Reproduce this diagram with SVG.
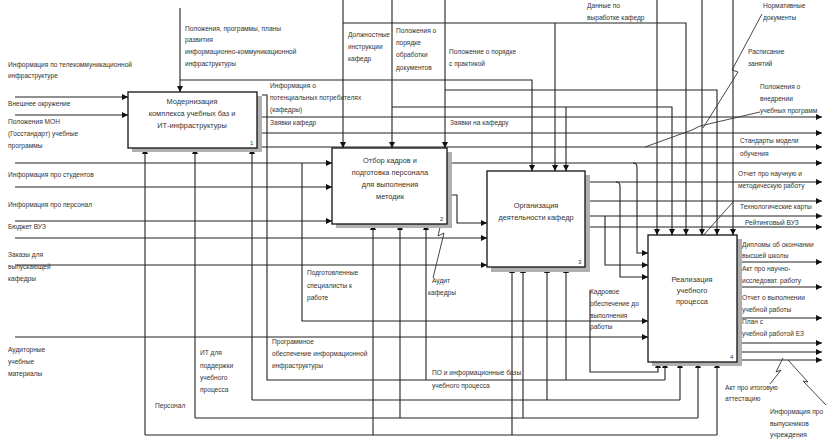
<svg xmlns="http://www.w3.org/2000/svg" width="827" height="439" viewBox="0 0 827 439">
<defs>
<marker id="ah" viewBox="0 0 8 8" refX="8" refY="4" markerWidth="6" markerHeight="6" orient="auto" markerUnits="userSpaceOnUse"><path d="M0,0 L8,4 L0,8 z" fill="#111"/></marker>
<style>
.c{fill:none;stroke:#222;stroke-width:1.1}
.a{marker-end:url(#ah)}
.z{fill:none;stroke:#333;stroke-width:0.9}
.box{fill:#fff;stroke:#111;stroke-width:1.3}
.sh{fill:#b0b0b0}
text{font-family:"Liberation Sans",Arial,sans-serif;font-size:6.6px;fill:#333}
.bt{text-anchor:middle;font-size:7.4px}
.n{font-size:6px}
</style>
</defs>
<rect width="827" height="439" fill="#fff"/>
<g id="connectors">
<path class="c a" d="M15,97 H128"/>
<path class="c a" d="M15,115 H128"/>
<path class="c a" d="M15,163 H332"/>
<path class="c a" d="M15,187 H332"/>
<path class="c a" d="M15,221 H332"/>
<path class="c a" d="M15,238 H487"/>
<path class="c a" d="M15,265 H487"/>
<path class="c a" d="M15,337 H648"/>
<path class="c a" d="M302,163 V321 H648"/>
<path class="c a" d="M633,163 Q637,163 637,167 V253 H648"/>
<path class="c a" d="M605,216 V265 H648"/>
<path class="c a" d="M616,182 Q620,182 620,186 V277 H648"/>
<path class="c a" d="M180,8 V92"/>
<path class="c a" d="M180,80 H532 V171"/>
<path class="c a" d="M343,0 V148"/>
<path class="c a" d="M392,0 V148"/>
<path class="c a" d="M445,0 V148"/>
<path class="c a" d="M343,23 H686 V235"/>
<path class="c a" d="M555,23 V171"/>
<path class="c a" d="M392,107 H672 V235"/>
<path class="c a" d="M566,107 V171"/>
<path class="c a" d="M445,90 H717 V235"/>
<path class="c a" d="M657,0 V235"/>
<path class="c a" d="M702,0 V235"/>
<path class="c a" d="M733,0 V235"/>
<path class="c a" d="M257,117 H822"/>
<path class="c a" d="M257,133 H822"/>
<path class="c a" d="M257,147 H822"/>
<path class="c a" d="M447,163 H822"/>
<path class="c a" d="M447,195 H457 V223 H487"/>
<path class="c a" d="M585,182 H822"/>
<path class="c a" d="M585,201 H822"/>
<path class="c a" d="M585,216 H822"/>
<path class="c a" d="M585,227 H822"/>
<path class="c a" d="M737,262 H822"/>
<path class="c a" d="M737,287 H822"/>
<path class="c a" d="M737,318 H822"/>
<path class="c a" d="M737,343 H822"/>
<path class="c a" d="M737,352 H822"/>
<path class="c a" d="M737,360 H822"/>
<path class="c" d="M145,435 H717"/>
<path class="c a" d="M145,435 V148"/>
<path class="c a" d="M373,435 V224"/>
<path class="c a" d="M512,435 V267"/>
<path class="c a" d="M717,435 V362"/>
<path class="c" d="M195,418 H698"/>
<path class="c a" d="M195,418 V148"/>
<path class="c a" d="M400,418 V224"/>
<path class="c a" d="M523,418 V267"/>
<path class="c a" d="M698,418 V362"/>
<path class="c" d="M252,400 H680"/>
<path class="c a" d="M252,400 V148"/>
<path class="c a" d="M547,400 V267"/>
<path class="c a" d="M680,400 V362"/>
<path class="c" d="M262,95 H267 V380 H665"/>
<path class="c a" d="M426,380 V224"/>
<path class="c a" d="M566,380 V267"/>
<path class="c a" d="M665,380 V362"/>
<path class="c a" d="M590,290 V372 H658 V362"/>
<path class="z" d="M447,197 L438,236 L444,233 L433,278"/>
<path class="z" d="M733,202 L693,247 L700,245 L652,290"/>
<path class="z" d="M762,14 L732,70 L738,72 L703,128"/>
<path class="z" d="M760,112 L700,126 L692,130 L645,147"/>
<path class="z" d="M783,358 L776,372 L781,370 L770,384"/>
<path class="z" d="M788,360 L808,382 L803,381 L826,405"/>
</g>
<g id="node1">
<rect class="sh" x="132" y="96" width="130" height="56"/>
<rect class="box" x="128" y="92" width="129" height="56"/>
<text class="bt" x="192" y="104">Модернизация</text>
<text class="bt" x="192" y="116">комплекса учебных баз и</text>
<text class="bt" x="192" y="128">ИТ-инфраструктуры</text>
<text class="n" x="250" y="145">1</text>
</g>
<g id="node2">
<rect class="sh" x="336" y="152" width="116" height="76"/>
<rect class="box" x="332" y="148" width="115" height="76"/>
<text class="bt" x="390" y="163">Отбор кадров и</text>
<text class="bt" x="390" y="175">подготовка персонала</text>
<text class="bt" x="390" y="187">для выполнения</text>
<text class="bt" x="390" y="199">методик</text>
<text class="n" x="440" y="221">2</text>
</g>
<g id="node3">
<rect class="sh" x="491" y="175" width="99" height="97"/>
<rect class="box" x="487" y="171" width="98" height="96"/>
<text class="bt" x="536" y="208">Организация</text>
<text class="bt" x="536" y="220">деятельности кафедр</text>
<text class="n" x="578" y="264">3</text>
</g>
<g id="node4">
<rect class="sh" x="652" y="239" width="90" height="127"/>
<rect class="box" x="648" y="235" width="89" height="127"/>
<text class="bt" x="692" y="282">Реализация</text>
<text class="bt" x="692" y="293">учебного</text>
<text class="bt" x="692" y="304">процесса</text>
<text class="n" x="730" y="359">4</text>
</g>
<g id="labels">
<text x="8" y="67">Информация по телекоммуникационной</text>
<text x="8" y="78">инфраструктуре</text>
<text x="8" y="106">Внешнее окружение</text>
<text x="8" y="124">Положения МОН</text>
<text x="8" y="136">(Госстандарт) учебные</text>
<text x="8" y="148">программы</text>
<text x="8" y="177">Информация про студентов</text>
<text x="8" y="207">Информация про персонал</text>
<text x="8" y="229">Бюджет ВУЗ</text>
<text x="8" y="257">Заказы для</text>
<text x="8" y="269">выпускающей</text>
<text x="8" y="281">кафедры</text>
<text x="8" y="352">Аудиторные</text>
<text x="8" y="364">учебные</text>
<text x="8" y="376">материалы</text>
<text x="185" y="31">Положения, программы, планы</text>
<text x="185" y="42">развития</text>
<text x="185" y="54">информационно-коммуникационной</text>
<text x="185" y="66">инфраструктуры</text>
<text x="348" y="37">Должностные</text>
<text x="348" y="49">инструкции</text>
<text x="348" y="61">кафедр</text>
<text x="396" y="33">Положения о</text>
<text x="396" y="45">порядке</text>
<text x="396" y="57">обработки</text>
<text x="396" y="70">документов</text>
<text x="449" y="54">Положение о порядке</text>
<text x="449" y="66">с практикой</text>
<text x="270" y="88">Информация о</text>
<text x="270" y="100">потенциальных потребителях</text>
<text x="270" y="112">(кафедры)</text>
<text x="270" y="125">Заявки кафедр</text>
<text x="450" y="125">Заявки на кафедру</text>
<text x="587" y="8">Данные по</text>
<text x="587" y="20">выработке кафедр</text>
<text x="763" y="8">Нормативные</text>
<text x="763" y="20">документы</text>
<text x="748" y="54">Расписание</text>
<text x="748" y="66">занятий</text>
<text x="760" y="89">Положения о</text>
<text x="760" y="101">внедрении</text>
<text x="760" y="113">учебных программ</text>
<text x="740" y="143">Стандарты модели</text>
<text x="740" y="156">обучения</text>
<text x="738" y="176">Отчет про научную и</text>
<text x="738" y="188">методическую работу</text>
<text x="740" y="209">Технологические карты</text>
<text x="745" y="225">Рейтинговый ВУЗ</text>
<text x="742" y="247">Дипломы об окончании</text>
<text x="742" y="258">высшей школы</text>
<text x="742" y="271">Акт про научно-</text>
<text x="742" y="283">исследоват. работу</text>
<text x="742" y="300">Отчет о выполнении</text>
<text x="742" y="312">учебной работы</text>
<text x="742" y="324">План с</text>
<text x="742" y="336">учебной работой ЕЗ</text>
<text x="725" y="390">Акт про итоговую</text>
<text x="725" y="401">аттестацию</text>
<text x="770" y="414">Информация про</text>
<text x="770" y="426">выпускников</text>
<text x="770" y="437">учреждения</text>
<text x="155" y="408">Персонал</text>
<text x="200" y="355">ИТ для</text>
<text x="200" y="368">поддержки</text>
<text x="200" y="380">учебного</text>
<text x="200" y="392">процесса</text>
<text x="272" y="344">Программное</text>
<text x="272" y="356">обеспечение информационной</text>
<text x="272" y="368">инфраструктуры</text>
<text x="307" y="275">Подготовленные</text>
<text x="307" y="288">специалисты к</text>
<text x="307" y="300">работе</text>
<text x="432" y="283">Аудит</text>
<text x="428" y="295">кафедры</text>
<text x="432" y="375">ПО и информационные базы</text>
<text x="432" y="388">учебного процесса</text>
<text x="590" y="294">Кадровое</text>
<text x="590" y="306">обеспечение до</text>
<text x="590" y="318">выполнения</text>
<text x="590" y="329">работы</text>
</g>
</svg>
